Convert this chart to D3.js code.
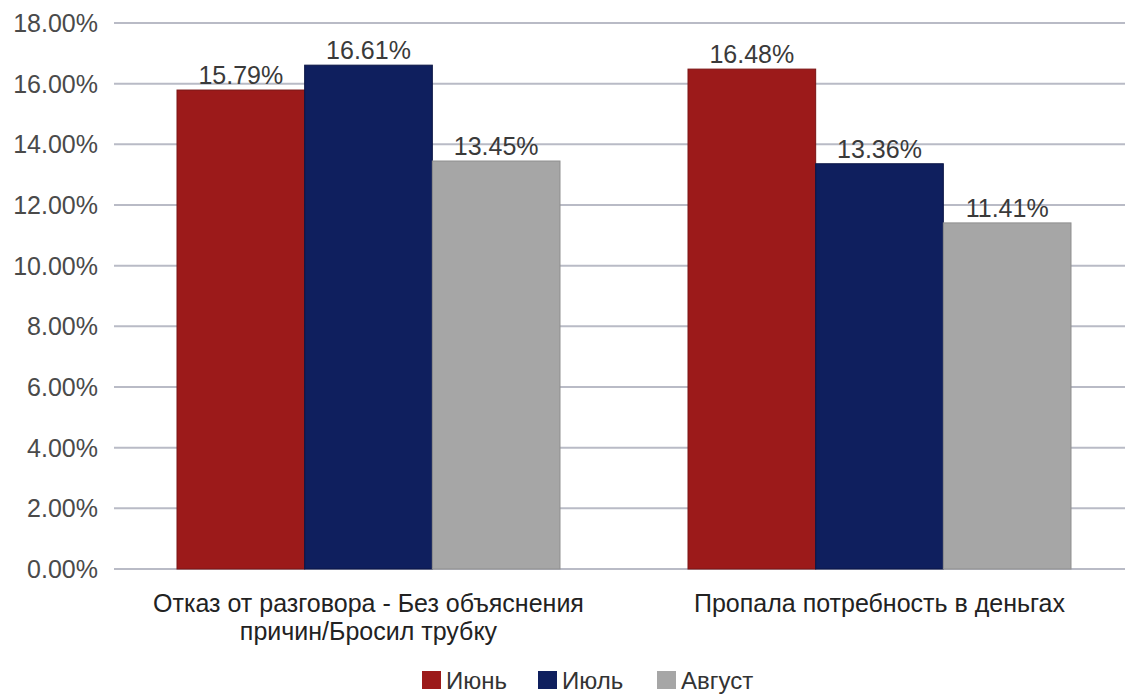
<!DOCTYPE html>
<html><head><meta charset="utf-8">
<script src="https://cdn.jsdelivr.net/npm/d3@7"></script>
<style>body{margin:0;background:#fff}svg{display:block;font-family:"Liberation Sans",Arial,sans-serif}</style>
</head><body><svg id="c" width="1125" height="696"></svg>
<script>
const categories = [["Отказ от разговора - Без объяснения","причин/Бросил трубку"],["Пропала потребность в деньгах"]];
const series = ["Июнь","Июль","Август"];
const colors = ["#9c1a1a","#0f1f5e","#a6a6a6"];
const strokes = ["#7a1414","#0a1545","#8f8f8f"];
const june = [15.79, 16.48];
const july = [16.61, 13.36];
const august = [13.45, 11.41];
const yTicks = [0,2,4,6,8,10,12,14,16,18];
const values = [june, july, august];

const svg = d3.select("#c");
const y = d3.scaleLinear().domain([0,18]).range([569,23]);
const x0 = d3.scaleBand().domain(d3.range(categories.length)).range([113,1135]);
const x1 = d3.scaleBand().domain(d3.range(series.length)).range([64, x0.bandwidth()-64]);

// grid
svg.append("g").selectAll("line").data(yTicks).join("line")
  .attr("x1",114).attr("x2",1125).attr("y1",d=>y(d)).attr("y2",d=>y(d))
  .attr("stroke","#b9bbc6").attr("stroke-width",2);
svg.append("g").selectAll("text").data(yTicks).join("text")
  .attr("x",98).attr("y",d=>y(d)+9).attr("text-anchor","end")
  .attr("font-size",25).attr("fill","#4a4a4a").text(d=>d.toFixed(2)+"%");

// bars
categories.forEach((c,ci)=>{
  const g = svg.append("g").attr("transform",`translate(${x0(ci)},0)`);
  series.forEach((s,si)=>{
    const v = values[si][ci];
    g.append("rect").attr("x",x1(si)).attr("y",y(v)).attr("width",x1.bandwidth()).attr("height",y(0)-y(v))
      .attr("fill",colors[si]).attr("stroke",strokes[si]).attr("stroke-width",1);
    g.append("text").attr("x",x1(si)+x1.bandwidth()/2).attr("y",y(v)-6).attr("text-anchor","middle")
      .attr("font-size",25).attr("fill","#3a3a3a").text(v.toFixed(2)+"%");
  });
  const t = svg.append("text").attr("text-anchor","middle").attr("font-size",25).attr("fill","#222");
  c.forEach((line,li)=>{
    t.append("tspan").attr("x",x0(ci)+x0.bandwidth()/2).attr("y",612+li*28).text(line);
  });
});

// legend
const lx = [422, 538, 657];
const lg = svg.append("g");
series.forEach((s,i)=>{
  lg.append("rect").attr("x",lx[i]).attr("y",671).attr("width",19).attr("height",18).attr("fill",colors[i]);
  lg.append("text").attr("x",lx[i]+24).attr("y",689).attr("font-size",24).attr("fill","#333").text(s);
});
</script></body></html>
